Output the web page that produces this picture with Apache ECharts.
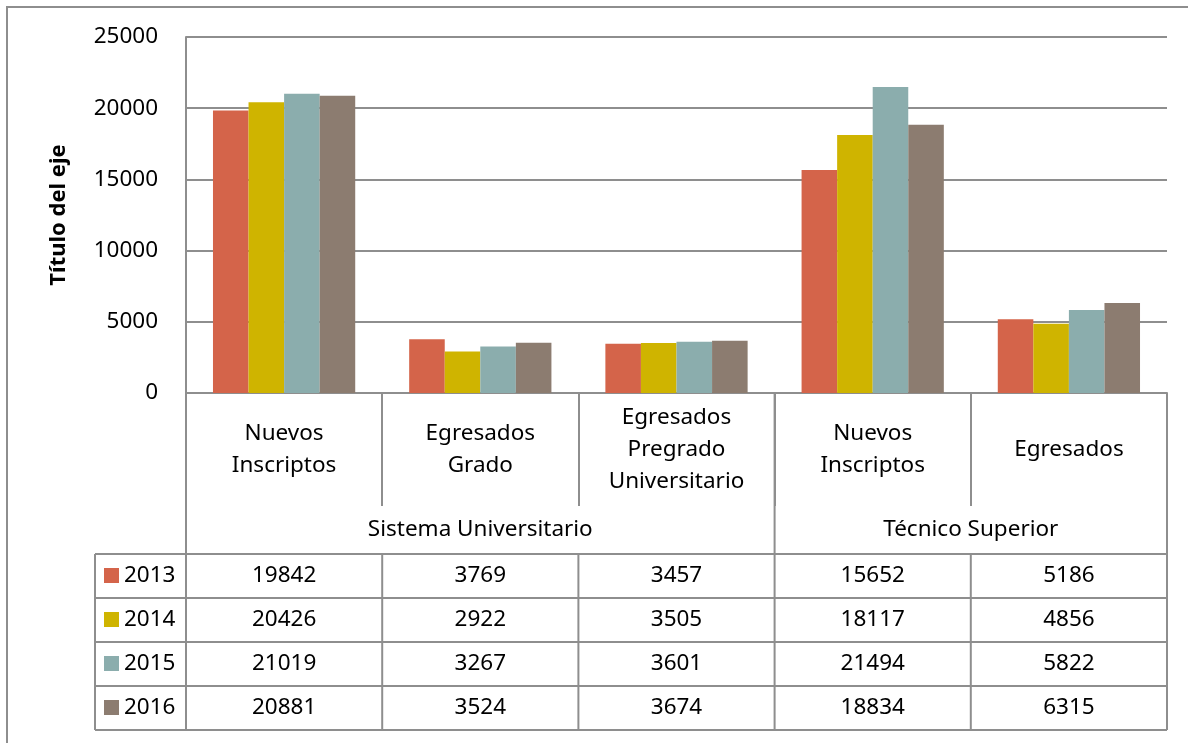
<!DOCTYPE html>
<html><head><meta charset="utf-8">
<script src="https://cdn.jsdelivr.net/npm/echarts@6/dist/echarts.min.js"></script>
<style>html,body{margin:0;padding:0;background:#fff}#c{width:1188px;height:743px}</style>
</head><body><div id="c"></div>
<script>
const categories = ['Nuevos\nInscriptos', 'Egresados\nGrado', 'Egresados\nPregrado\nUniversitario', 'Nuevos\nInscriptos', 'Egresados'];
const groups = [{name: 'Sistema Universitario', from: 0, to: 2}, {name: 'Técnico Superior', from: 3, to: 4}];
const seriesNames = ['2013', '2014', '2015', '2016'];
const s2013 = [19842, 3769, 3457, 15652, 5186];
const s2014 = [20426, 2922, 3505, 18117, 4856];
const s2015 = [21019, 3267, 3601, 21494, 5822];
const s2016 = [20881, 3524, 3674, 18834, 6315];
const seriesValues = [s2013, s2014, s2015, s2016];
const colors = ['#D4644A', '#CFB400', '#8BADAD', '#8C7C70'];
const yTicks = {min: 0, max: 25000, interval: 5000};

const FONT = '"Noto Sans", "Open Sans", sans-serif';
const FS = 22.5;
const LINE = '#8e8e8e';

const chart = echarts.init(document.getElementById('c'), null, {renderer: 'canvas'});
const option = {
  animation: false,
  backgroundColor: '#fff',
  textStyle: {fontFamily: FONT},
  grid: {left: 186, right: 21, top: 37, bottom: 350, containLabel: false},
  xAxis: {
    type: 'category', data: categories,
    axisLine: {show: true, lineStyle: {color: LINE, width: 2}},
    axisTick: {show: true, alignWithLabel: false, length: 113, lineStyle: {color: LINE, width: 2}},
    axisLabel: {color: '#000', fontSize: FS, fontFamily: FONT, lineHeight: 32, margin: 57, verticalAlign: 'middle', interval: 0}
  },
  yAxis: {
    type: 'value', min: yTicks.min, max: yTicks.max, interval: yTicks.interval,
    name: 'Título del eje', nameLocation: 'middle', nameGap: 116, nameRotate: 90,
    nameTextStyle: {color: '#000', fontSize: 22, fontWeight: 'bold', fontFamily: FONT},
    axisLine: {show: true, lineStyle: {color: LINE, width: 2}},
    axisTick: {show: false},
    axisLabel: {color: '#000', fontSize: FS, fontFamily: FONT, margin: 28, formatter: v => String(v)},
    splitLine: {show: true, lineStyle: {color: LINE, width: 2}}
  },
  series: seriesNames.map((n, i) => ({
    name: n, type: 'bar', data: seriesValues[i],
    itemStyle: {color: colors[i]},
    barGap: '0%', barCategoryGap: '27.5%'
  }))
};
chart.setOption(option);

// Build the data table & group row from axis positions
const nCat = categories.length;
const c0 = chart.convertToPixel({xAxisIndex: 0}, 0);
const c1 = chart.convertToPixel({xAxisIndex: 0}, 1);
const w = c1 - c0;
const bound = i => c0 - w / 2 + i * w;
const y0 = chart.convertToPixel({yAxisIndex: 0}, 0);
const labelBottom = y0 + 113;
const groupBottom = y0 + 161;
const rowH = 44;
const tableLeft = 95;
const gfx = [];
const lineEl = (x1, y1, x2, y2) => ({type: 'line', shape: {x1, y1, x2, y2}, style: {stroke: LINE, lineWidth: 2}, silent: true});
gfx.push({type: 'rect', shape: {x: 7, y: 7, width: 1300, height: 900}, style: {fill: null, stroke: LINE, lineWidth: 2}, silent: true});
const groupBounds = new Set([0, nCat]);
groups.forEach(g => { groupBounds.add(g.from); groupBounds.add(g.to + 1); });
const tableBottom = groupBottom + rowH * seriesNames.length;
for (let i = 0; i <= nCat; i++) {
  const x = bound(i);
  if (groupBounds.has(i)) gfx.push(lineEl(x, y0, x, tableBottom));
  else gfx.push(lineEl(x, groupBottom, x, tableBottom));
}
groups.forEach(g => {
  const xm = (bound(g.from) + bound(g.to + 1)) / 2;
  gfx.push({type: 'text', x: xm, y: (labelBottom + groupBottom) / 2, style: {text: g.name, fill: '#000', font: FS + 'px ' + FONT, align: 'center', verticalAlign: 'middle'}});
});
for (let r = 0; r <= seriesNames.length; r++) {
  const y = groupBottom + r * rowH;
  gfx.push(lineEl(tableLeft, y, bound(nCat), y));
}
gfx.push(lineEl(tableLeft, groupBottom, tableLeft, tableBottom));
seriesNames.forEach((n, r) => {
  const yc = groupBottom + r * rowH + rowH / 2;
  gfx.push({type: 'rect', shape: {x: tableLeft + 9, y: yc - 8, width: 15, height: 15}, style: {fill: colors[r]}});
  gfx.push({type: 'text', x: tableLeft + 29, y: yc, style: {text: n, fill: '#000', font: FS + 'px ' + FONT, align: 'left', verticalAlign: 'middle'}});
  seriesValues[r].forEach((v, i) => {
    const xc = chart.convertToPixel({xAxisIndex: 0}, i);
    gfx.push({type: 'text', x: xc, y: yc, style: {text: String(v), fill: '#000', font: FS + 'px ' + FONT, align: 'center', verticalAlign: 'middle'}});
  });
});
chart.setOption({graphic: gfx});
</script>
</body></html>
